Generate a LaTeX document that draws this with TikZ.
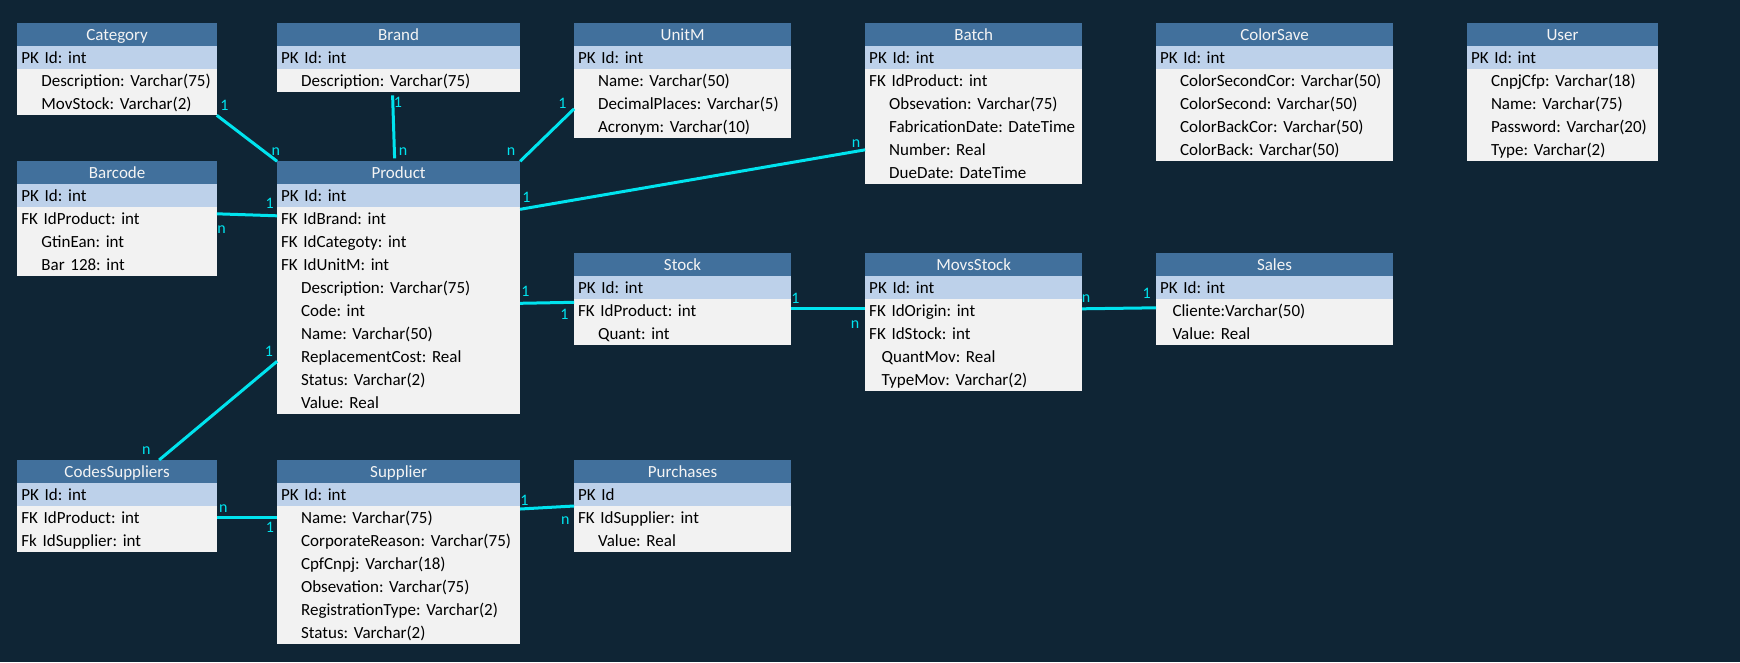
\documentclass[tikz,border=0pt]{standalone}
\usepackage{fontspec}
\setmainfont{Carlito}
\usepackage{tikz}

\definecolor{bgnavy}{HTML}{0F2535}
\definecolor{headbg}{HTML}{41709C}
\definecolor{headtext}{HTML}{F4F4F4}
\definecolor{pkbg}{HTML}{BDD1EA}
\definecolor{rowbg}{HTML}{F2F2F2}
\definecolor{linkcyan}{HTML}{00E3EE}
\newcommand{\tabfont}{\fontsize{17}{20}\selectfont}
\newcommand{\lblfont}{\fontsize{16}{18}\selectfont}
\newcommand{\rowind}{\hspace*{20pt}}
\newcommand{\rowindb}{\hspace*{12.5pt}}
\frenchspacing

\begin{document}
\begin{tikzpicture} [x = 1pt, y = -1pt,
  trow/.style = {fill = rowbg, text = black, anchor = north west, outer sep = 0pt, inner xsep = 4pt, inner ysep = 0pt,
    minimum height = 23pt, text width = #1, align = left, text height = 12pt, text depth = 0pt, font = \tabfont,
    execute at begin node = {\hyphenpenalty = 10000 \frenchspacing}},
  tpk/.style = {trow = #1, fill = pkbg},
  thead/.style = {trow = #1, fill = headbg, text = headtext, align = center},
  link/.style = {draw = linkcyan, line width = 3pt},
  card/.style = {text = linkcyan, font = \lblfont, inner sep = 0pt}]
\fill[bgnavy] (0, 0) rectangle (1740, 662);
% top row
\node[thead = 191.4pt] (cat) at (17.4, 23.3) {Category};
\node[tpk = 191.4pt] (cat-1) at (17.4, 46.3) {PK Id: int};
\foreach \txt [count = \i from 2] in {\rowind Description: Varchar(75), \rowind MovStock: Varchar(2)}
  \node[trow = 191.4pt] (cat-\i) at (17.4, 23.3 + 23*\i) {\mbox{\txt}};
\node[thead = 235pt] (brand) at (277.1, 23.3) {Brand};
\node[tpk = 235pt] (brand-1) at (277.1, 46.3) {PK Id: int};
\node[trow = 235pt] (brand-2) at (277.1, 69.3) {\rowind Description: Varchar(75)};
\node[thead = 209pt] (unitm) at (574.1, 23.3) {UnitM};
\node[tpk = 209pt] (unitm-1) at (574.1, 46.3) {PK Id: int};
\foreach \txt [count = \i from 2] in {Name: Varchar(50), DecimalPlaces: Varchar(5), Acronym: Varchar(10)}
  \node[trow = 209pt] (unitm-\i) at (574.1, 23.3 + 23*\i) {\rowind \txt};
\node[thead = 209pt] (batch) at (865.2, 23.3) {Batch};
\node[tpk = 209pt] (batch-1) at (865.2, 46.3) {PK Id: int};
\foreach \txt [count = \i from 2] in {FK IdProduct: int, \rowind Obsevation: Varchar(75), \rowind FabricationDate: DateTime,
    \rowind Number: Real, \rowind DueDate: DateTime}
  \node[trow = 209pt] (batch-\i) at (865.2, 23.3 + 23*\i) {\mbox{\txt}};
\node[thead = 229pt] (color) at (1156, 23.3) {ColorSave};
\node[tpk = 229pt] (color-1) at (1156, 46.3) {PK Id: int};
\foreach \txt [count = \i from 2] in {ColorSecondCor: Varchar(50), ColorSecond: Varchar(50), ColorBackCor: Varchar(50), ColorBack: Varchar(50)}
  \node[trow = 229pt] (color-\i) at (1156, 23.3 + 23*\i) {\rowind \txt};
\node[thead = 183pt] (user) at (1467, 23.3) {User};
\node[tpk = 183pt] (user-1) at (1467, 46.3) {PK Id: int};
\foreach \txt [count = \i from 2] in {CnpjCfp: Varchar(18), Name: Varchar(75), Password: Varchar(20), Type: Varchar(2)}
  \node[trow = 183pt] (user-\i) at (1467, 23.3 + 23*\i) {\rowind \txt};
% middle row
\node[thead = 191.4pt] (bar) at (17.4, 161.3) {Barcode};
\node[tpk = 191.4pt] (bar-1) at (17.4, 184.3) {PK Id: int};
\foreach \txt [count = \i from 2] in {FK IdProduct: int, \rowind GtinEan: int, \rowind Bar 128: int}
  \node[trow = 191.4pt] (bar-\i) at (17.4, 161.3 + 23*\i) {\txt};
\node[thead = 235pt] (prod) at (277.1, 161.3) {Product};
\node[tpk = 235pt] (prod-1) at (277.1, 184.3) {PK Id: int};
\foreach \txt [count = \i from 2] in {FK IdBrand: int, FK IdCategoty: int, FK IdUnitM: int, \rowind Description: Varchar(75),
    \rowind Code: int, \rowind Name: Varchar(50), \rowind ReplacementCost: Real, \rowind Status: Varchar(2), \rowind Value: Real}
  \node[trow = 235pt] (prod-\i) at (277.1, 161.3 + 23*\i) {\txt};
\node[thead = 209pt] (stock) at (574.1, 253.3) {Stock};
\node[tpk = 209pt] (stock-1) at (574.1, 276.3) {PK Id: int};
\node[trow = 209pt] (stock-2) at (574.1, 299.3) {FK IdProduct: int};
\node[trow = 209pt] (stock-3) at (574.1, 322.3) {\rowind Quant: int};
\node[thead = 209pt] (movs) at (865.2, 253.3) {MovsStock};
\node[tpk = 209pt] (movs-1) at (865.2, 276.3) {PK Id: int};
\foreach \txt [count = \i from 2] in {FK IdOrigin: int, FK IdStock: int, \rowindb QuantMov: Real, \rowindb TypeMov: Varchar(2)}
  \node[trow = 209pt] (movs-\i) at (865.2, 253.3 + 23*\i) {\txt};
\node[thead = 229pt] (sales) at (1156, 253.3) {Sales};
\node[tpk = 229pt] (sales-1) at (1156, 276.3) {PK Id: int};
\node[trow = 229pt] (sales-2) at (1156, 299.3) {\rowindb Cliente:Varchar(50)};
\node[trow = 229pt] (sales-3) at (1156, 322.3) {\rowindb Value: Real};
% bottom row
\node[thead = 191.4pt] (codes) at (17.4, 460) {CodesSuppliers};
\node[tpk = 191.4pt] (codes-1) at (17.4, 483) {PK Id: int};
\node[trow = 191.4pt] (codes-2) at (17.4, 506) {FK IdProduct: int};
\node[trow = 191.4pt] (codes-3) at (17.4, 529) {Fk IdSupplier: int};
\node[thead = 235pt] (sup) at (277.1, 460) {Supplier};
\node[tpk = 235pt] (sup-1) at (277.1, 483) {PK Id: int};
\foreach \txt [count = \i from 2] in {Name: Varchar(75), CorporateReason: Varchar(75), CpfCnpj: Varchar(18), Obsevation: Varchar(75),
    RegistrationType: Varchar(2), Status: Varchar(2)}
  \node[trow = 235pt] (sup-\i) at (277.1, 460 + 23*\i) {\rowind \txt};
\node[thead = 209pt] (purch) at (574.1, 460) {Purchases};
\node[tpk = 209pt] (purch-1) at (574.1, 483) {PK Id};
\node[trow = 209pt] (purch-2) at (574.1, 506) {FK IdSupplier: int};
\node[trow = 209pt] (purch-3) at (574.1, 529) {\rowind Value: Real};
% relations
\draw[link] (cat-3.south east) -- (prod.north west);
\draw[link] ([xshift = -6pt, yshift = -3pt]brand-2.south) -- ([xshift = -4pt, yshift = 3pt]prod.north);
\draw[link] ([yshift = -5pt]unitm-3.west) -- (prod.north east);
\draw[link] ([yshift = -2pt]prod-2.north east) -- (batch-5.west);
\draw[link] ([yshift = 5pt]bar-2.east) -- ([yshift = 3pt]prod-2.west);
\draw[link] ([yshift = -4pt]prod-6.north east) -- ([yshift = -3pt]stock-2.north west);
\draw[link] ([yshift = 2pt]stock-2.east) -- ([yshift = 2pt]movs-2.west);
\draw[link] ([yshift = 2pt]movs-2.east) -- ([yshift = 3pt]sales-2.west);
\draw[link] ([yshift = -4.5pt]prod-8.west) -- ([xshift = 42pt]codes.north);
\draw[link] (codes-2.east) -- (sup-2.west);
\draw[link] ([yshift = -3pt]sup-2.north east) -- (purch-2.north west);
\foreach \nm/\x/\y/\txt in {cat-one/224.5/105.3/1, cat-n/275.8/151.2/n, brand-one/398/102/1, brand-n/403/151.2/n,
    unitm-one/562.5/103.5/1, unitm-n/511/151.2/n, batch-one/526.5/197.3/1, batch-n/856/143.7/n,
    bar-one/269.7/203/1, bar-n/221.5/229.2/n, stock-one/525.5/291.7/1, stock-two/564.4/314.3/1,
    movs-one/795.5/298.3/1, movs-n/855/324.2/n, sales-n/1086/298.2/n, sales-one/1146.7/293.7/1,
    codes-one/269/351.7/1, codes-n/146.3/450.8/n, sup-n/223.3/508.3/n, sup-one/270/527.5/1,
    purch-one/524.4/500.8/1, purch-n/565.2/520.3/n}
  \node[card] (\nm) at (\x, \y) {\txt};
\end{tikzpicture}
\end{document}
